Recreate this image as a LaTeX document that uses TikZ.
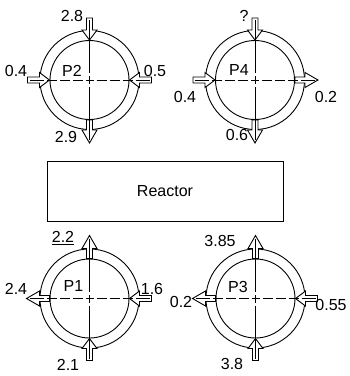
\documentclass[tikz,border=0pt]{standalone}
\usepackage{fontspec}
\setmainfont{Liberation Sans}
\newcommand\hollowarr[5]{\draw[harrowline,shift={(#1)},rotate=#2] (#3,-3)--(#4,-3)--(#4,-7.5)--(#5,0)--(#4,7.5)--(#4,3)--(#3,3)--cycle;}
\newcommand\inarr[2]{\hollowarr{#1}{#2}{62}{50}{40}}
\newcommand\outarr[2]{\hollowarr{#1}{#2}{40}{50}{63}}
\newcommand\crossl[1]{%
  \draw[hline] (#1) -- ++(-60,0);
  \draw[hline] (#1) -- ++(60,0);
  \draw[vline] (#1) -- ++(0,-60);
  \draw[vline] (#1) -- ++(0,60);}
\begin{document}
\begin{tikzpicture}[x=1pt,y=-1pt,
  ring/.style={line width=0.9pt},
  harrowline/.style={draw=black,fill=white,line width=0.9pt,line join=miter},
  lbl/.style={font=\fontsize{16}{18}\selectfont, inner sep=0pt},
  hline/.style={line width=0.9pt, dash pattern=on 4pt off 3pt on 10pt off 3pt on 10pt off 3pt on 10pt off 3pt on 40pt},
  vline/.style={line width=0.9pt, dash pattern=on 4pt off 3pt on 60pt},
  box/.style={draw, line width=0.9pt, minimum width=236pt, minimum height=60pt, inner sep=0pt, font=\fontsize{16}{18}\selectfont}]
\useasboundingbox (0,0) rectangle (350,376);
\coordinate (p2) at (89.5,80);
\coordinate (p4) at (255,80);
\coordinate (p1) at (89.5,298.5);
\coordinate (p3) at (255.5,298.5);
% rings
\foreach \c in {p1,p2,p3,p4}{
  \draw[ring] (\c) circle[radius=49.5];
  \draw[ring] (\c) circle[radius=39.5];
}
% P2 arrows
\inarr{p2}{90}
\inarr{p2}{180}
\inarr{p2}{0}
\outarr{p2}{-90}
% P4 arrows
\inarr{p4}{90}
\inarr{p4}{180}
\outarr{p4}{0}
\outarr{p4}{-90}
% P1 arrows
\outarr{p1}{90}
\outarr{p1}{180}
\inarr{p1}{0}
\inarr{p1}{-90}
% P3 arrows
\outarr{p3}{90}
\outarr{p3}{180}
\inarr{p3}{0}
\inarr{p3}{-90}
% center lines
\crossl{p1}\crossl{p2}\crossl{p3}\crossl{p4}
% reactor
\node[box] (reactor) at (165,191.5) {Reactor};
% labels P2
\node[lbl] (l28) at (72,16) {2.8};
\node[lbl] (l04a) at (16,71) {0.4};
\node[lbl] (l05) at (155,71) {0.5};
\node[lbl] (l29) at (66,137) {2.9};
\node[lbl] (np2) at (72,71) {P2};
% labels P4
\node[lbl] (lq) at (244,16) {?};
\node[lbl] (np4) at (239,70) {P4};
\node[lbl] (l04b) at (185,97) {0.4};
\node[lbl] (l02a) at (326,97) {0.2};
\node[lbl] (l06) at (237,135) {0.6};
% labels P1
\node[lbl] (l22) at (63,238) {\underline{2.2}};
\node[lbl] (np1) at (73.5,286) {P1};
\node[lbl] (l21) at (68,365) {2.1};
\node[lbl] (l24) at (16,289) {2.4};
\node[lbl] (l16) at (152,289) {1.6};
% labels P3
\node[lbl] (l385) at (220,241) {3.85};
\node[lbl] (np3) at (238,287) {P3};
\node[lbl] (l02b) at (181,302) {0.2};
\node[lbl] (l055) at (331,305) {0.55};
\node[lbl] (l38) at (232,364) {3.8};
\end{tikzpicture}
\end{document}
